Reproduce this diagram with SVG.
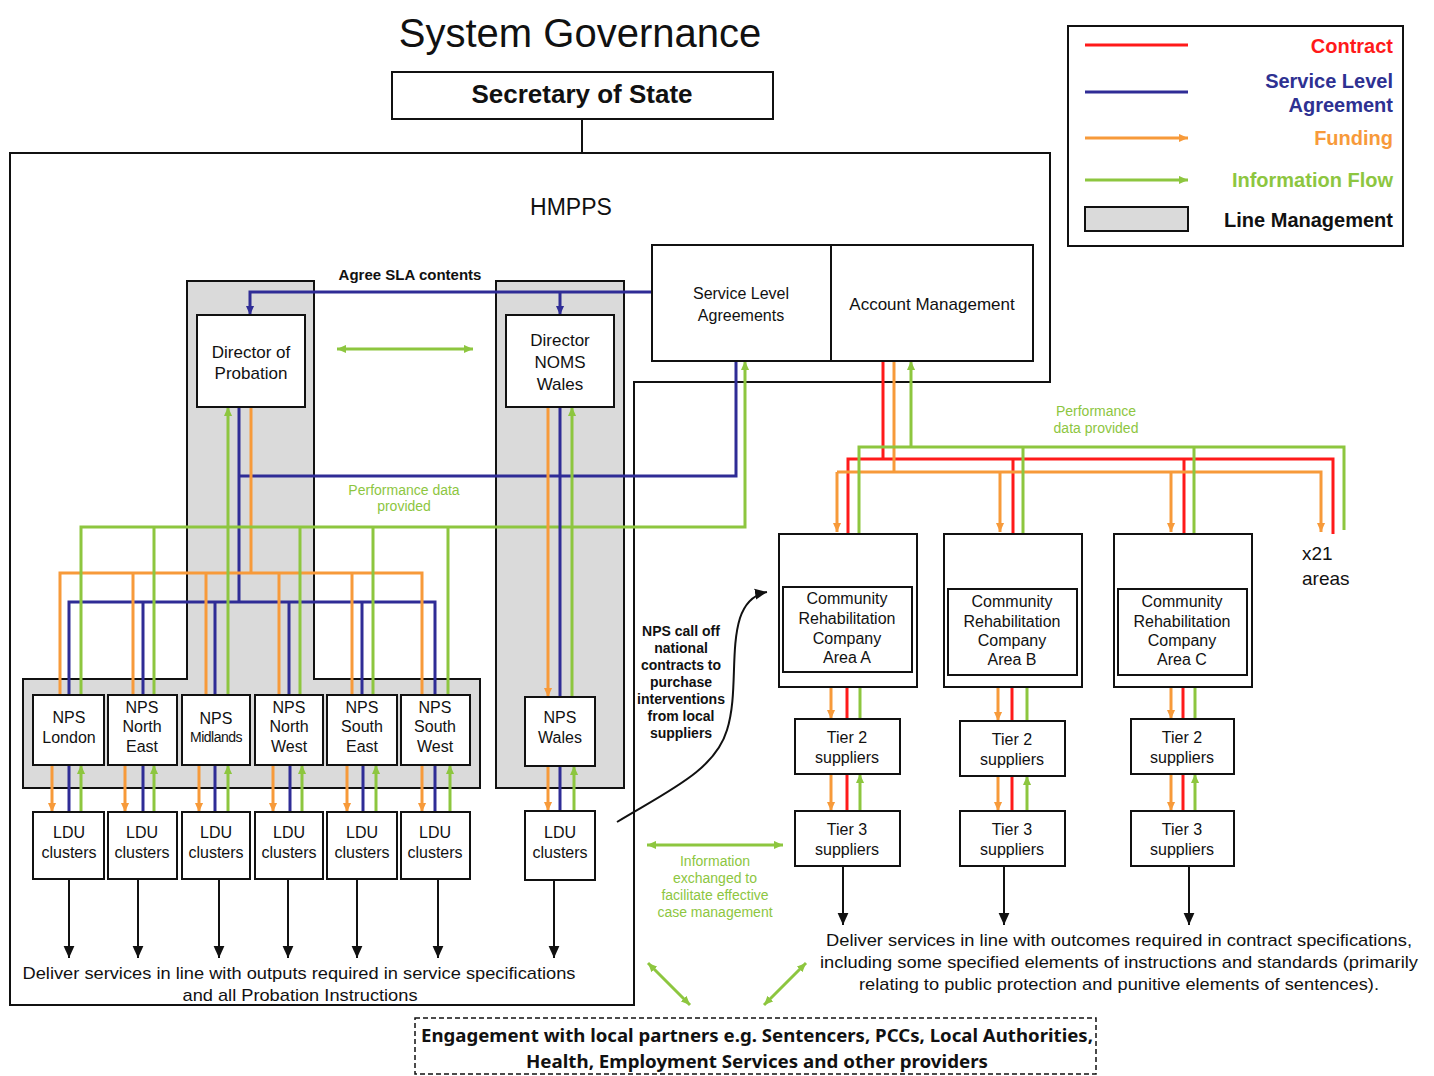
<svg xmlns="http://www.w3.org/2000/svg" width="1434" height="1076" viewBox="0 0 1434 1076">
<defs>
<style>
text{font-family:"Liberation Sans",Arial,sans-serif;fill:#111}
.c{text-anchor:middle}
.e{text-anchor:end}
.bd{font-weight:bold}
.box{fill:#fff;stroke:#111;stroke-width:2}
.lm{fill:#dadada;stroke:#111;stroke-width:2}
.frame{fill:none;stroke:#111;stroke-width:2}
.r{stroke:#ff1a1a;stroke-width:3;fill:none}
.b{stroke:#2f2c96;stroke-width:3;fill:none}
.o{stroke:#f79a3a;stroke-width:3;fill:none}
.g{stroke:#8dc63f;stroke-width:3;fill:none}
.k{stroke:#111;stroke-width:2;fill:none}
.t16{font-size:16px}
.t17{font-size:17px}
.t14{font-size:14px}
.gt{fill:#8dc63f;font-size:14px}
.lg{font-size:20px;font-weight:bold}
</style>
<marker id="ao" viewBox="0 0 10 10" refX="10" refY="5" markerWidth="9" markerHeight="9" markerUnits="userSpaceOnUse" orient="auto"><path d="M0,0.5 L10,5 L0,9.5 z" fill="#f79a3a"/></marker>
<marker id="ag" viewBox="0 0 10 10" refX="10" refY="5" markerWidth="9" markerHeight="9" markerUnits="userSpaceOnUse" orient="auto-start-reverse"><path d="M0,0.5 L10,5 L0,9.5 z" fill="#8dc63f"/></marker>
<marker id="ab" viewBox="0 0 10 10" refX="10" refY="5" markerWidth="9" markerHeight="9" markerUnits="userSpaceOnUse" orient="auto"><path d="M0,0.5 L10,5 L0,9.5 z" fill="#2f2c96"/></marker>
<marker id="ak" viewBox="0 0 10 10" refX="10" refY="5" markerWidth="12" markerHeight="12" markerUnits="userSpaceOnUse" orient="auto"><path d="M0,0.5 L10,5 L0,9.5 z" fill="#111"/></marker>
</defs>
<rect width="1434" height="1076" fill="#fff"/>

<text x="580" y="47" class="c" font-size="40">System Governance</text>

<!-- frames / line management backgrounds -->
<g id="hmpps">
<path class="frame" d="M10,153 H1050 V382 H634 V1005 H10 Z"/>
<text x="571" y="215" class="c" font-size="23">HMPPS</text>
</g>
<g id="lm-probation"><path class="lm" d="M187,281 H314 V679 H480 V788 H23 V679 H187 Z"/></g>
<g id="lm-wales"><rect class="lm" x="496" y="281" width="128" height="507"/></g>

<!-- connectors -->
<g id="connectors">
<line class="k" x1="582" y1="119" x2="582" y2="153"/>
<!-- SLA agree -->
<path class="b" d="M652,292 H250 V315" marker-end="url(#ab)"/>
<path class="b" d="M560,292 V315" marker-end="url(#ab)"/>
<line class="g" x1="337" y1="349" x2="473" y2="349" marker-start="url(#ag)" marker-end="url(#ag)"/>
<!-- blue SLA to NPS -->
<path class="b" d="M736,361 V476 H239"/>
<path class="b" d="M239,407 V602"/>
<path class="b" d="M69,695 V602 H435 V695"/>
<path class="b" d="M143,602 V695 M215,602 V695 M289,602 V695 M362,602 V695"/>
<!-- orange funding -->
<path class="o" d="M251,407 V573"/>
<path class="o" d="M60,695 V573 H422 V695"/>
<path class="o" d="M133,573 V695 M206,573 V695 M279,573 V695 M352,573 V695"/>
<!-- green info -->
<path class="g" d="M81,695 V527 H745 V361" marker-end="url(#ag)"/>
<path class="g" d="M228,695 V407" marker-end="url(#ag)"/>
<path class="g" d="M154,527 V695 M300,527 V695 M373,527 V695 M448,527 V695"/>
<!-- Wales -->
<line class="o" x1="548" y1="407" x2="548" y2="697" marker-end="url(#ao)"/>
<line class="b" x1="560" y1="407" x2="560" y2="697"/>
<line class="g" x1="572" y1="697" x2="572" y2="407" marker-end="url(#ag)"/>
<line class="o" x1="548" y1="766" x2="548" y2="811" marker-end="url(#ao)"/>
<line class="b" x1="560" y1="766" x2="560" y2="811"/>
<line class="g" x1="574" y1="811" x2="574" y2="766" marker-end="url(#ag)"/>
<!-- NPS to LDU -->
<g>
<line class="o" x1="52" y1="765" x2="52" y2="812" marker-end="url(#ao)"/>
<line class="b" x1="69" y1="765" x2="69" y2="812"/>
<line class="g" x1="81" y1="812" x2="81" y2="765" marker-end="url(#ag)"/>
<line class="o" x1="125" y1="765" x2="125" y2="812" marker-end="url(#ao)"/>
<line class="b" x1="143" y1="765" x2="143" y2="812"/>
<line class="g" x1="154" y1="812" x2="154" y2="765" marker-end="url(#ag)"/>
<line class="o" x1="199" y1="765" x2="199" y2="812" marker-end="url(#ao)"/>
<line class="b" x1="215" y1="765" x2="215" y2="812"/>
<line class="g" x1="228" y1="812" x2="228" y2="765" marker-end="url(#ag)"/>
<line class="o" x1="273" y1="765" x2="273" y2="812" marker-end="url(#ao)"/>
<line class="b" x1="290" y1="765" x2="290" y2="812"/>
<line class="g" x1="302" y1="812" x2="302" y2="765" marker-end="url(#ag)"/>
<line class="o" x1="347" y1="765" x2="347" y2="812" marker-end="url(#ao)"/>
<line class="b" x1="363" y1="765" x2="363" y2="812"/>
<line class="g" x1="376" y1="812" x2="376" y2="765" marker-end="url(#ag)"/>
<line class="o" x1="422" y1="765" x2="422" y2="812" marker-end="url(#ao)"/>
<line class="b" x1="435" y1="765" x2="435" y2="812"/>
<line class="g" x1="450" y1="812" x2="450" y2="765" marker-end="url(#ag)"/>
</g>
<!-- LDU deliver arrows -->
<g>
<line class="k" x1="69" y1="879" x2="69" y2="958" marker-end="url(#ak)"/>
<line class="k" x1="138" y1="879" x2="138" y2="958" marker-end="url(#ak)"/>
<line class="k" x1="219" y1="879" x2="219" y2="958" marker-end="url(#ak)"/>
<line class="k" x1="288" y1="879" x2="288" y2="958" marker-end="url(#ak)"/>
<line class="k" x1="357" y1="879" x2="357" y2="958" marker-end="url(#ak)"/>
<line class="k" x1="438" y1="879" x2="438" y2="958" marker-end="url(#ak)"/>
<line class="k" x1="554" y1="880" x2="554" y2="958" marker-end="url(#ak)"/>
</g>
<!-- Account management to CRCs -->
<path class="r" d="M883,361 V459"/>
<path class="r" d="M848,534 V459 H1333 V534"/>
<path class="r" d="M1013,459 V534 M1184,459 V534"/>
<path class="o" d="M894,361 V472"/>
<path class="o" d="M837,472 H1321 V532" marker-end="url(#ao)"/>
<path class="o" d="M837,472 V532" marker-end="url(#ao)"/>
<path class="o" d="M1000,472 V532" marker-end="url(#ao)"/>
<path class="o" d="M1171,472 V532" marker-end="url(#ao)"/>
<path class="g" d="M859,534 V447 H1344 V530"/>
<path class="g" d="M1023,447 V534 M1194,447 V534"/>
<path class="g" d="M911,447 V361" marker-end="url(#ag)"/>
<!-- CRC to tiers -->
<g>
<line class="o" x1="831" y1="672" x2="831" y2="719" marker-end="url(#ao)"/>
<line class="r" x1="847" y1="672" x2="847" y2="719"/>
<line class="g" x1="860" y1="719" x2="860" y2="672" marker-end="url(#ag)"/>
<line class="o" x1="831" y1="774" x2="831" y2="811" marker-end="url(#ao)"/>
<line class="r" x1="847" y1="774" x2="847" y2="811"/>
<line class="g" x1="860" y1="811" x2="860" y2="774" marker-end="url(#ag)"/>
<line class="o" x1="998" y1="675" x2="998" y2="721" marker-end="url(#ao)"/>
<line class="r" x1="1012" y1="675" x2="1012" y2="721"/>
<line class="g" x1="1027" y1="721" x2="1027" y2="675" marker-end="url(#ag)"/>
<line class="o" x1="998" y1="776" x2="998" y2="811" marker-end="url(#ao)"/>
<line class="r" x1="1012" y1="776" x2="1012" y2="811"/>
<line class="g" x1="1027" y1="811" x2="1027" y2="776" marker-end="url(#ag)"/>
<line class="o" x1="1171" y1="675" x2="1171" y2="719" marker-end="url(#ao)"/>
<line class="r" x1="1183" y1="675" x2="1183" y2="719"/>
<line class="g" x1="1195" y1="719" x2="1195" y2="675" marker-end="url(#ag)"/>
<line class="o" x1="1171" y1="774" x2="1171" y2="811" marker-end="url(#ao)"/>
<line class="r" x1="1183" y1="774" x2="1183" y2="811"/>
<line class="g" x1="1195" y1="811" x2="1195" y2="774" marker-end="url(#ag)"/>
</g>
<line class="k" x1="843" y1="866" x2="843" y2="925" marker-end="url(#ak)"/>
<line class="k" x1="1004" y1="866" x2="1004" y2="925" marker-end="url(#ak)"/>
<line class="k" x1="1189" y1="866" x2="1189" y2="925" marker-end="url(#ak)"/>
<!-- curved call-off arrow -->
<path class="k" d="M617,822 C670,790 715,770 727,730 C738,695 730,650 740,618 C746,600 756,594 767,592" marker-end="url(#ak)"/>
<!-- info exchange -->
<line class="g" x1="647" y1="845" x2="783" y2="845" marker-start="url(#ag)" marker-end="url(#ag)"/>
<line class="g" x1="648" y1="963" x2="690" y2="1005" marker-start="url(#ag)" marker-end="url(#ag)"/>
<line class="g" x1="806" y1="963" x2="764" y2="1005" marker-start="url(#ag)" marker-end="url(#ag)"/>
</g>

<!-- labels -->
<text x="410" y="280" class="c bd" font-size="15">Agree SLA contents</text>
<text class="c gt"><tspan x="404" y="495">Performance data</tspan><tspan x="404" y="511">provided</tspan></text>
<text class="c gt"><tspan x="1096" y="416">Performance</tspan><tspan x="1096" y="433">data provided</tspan></text>
<text class="c gt"><tspan x="715" y="866">Information</tspan><tspan x="715" y="883">exchanged to</tspan><tspan x="715" y="900">facilitate effective</tspan><tspan x="715" y="917">case management</tspan></text>
<text class="c bd t14"><tspan x="681" y="636">NPS call off</tspan><tspan x="681" y="653">national</tspan><tspan x="681" y="670">contracts to</tspan><tspan x="681" y="687">purchase</tspan><tspan x="681" y="704">interventions</tspan><tspan x="681" y="721">from local</tspan><tspan x="681" y="738">suppliers</tspan></text>
<text x="1302" y="560" font-size="19">x21</text>
<text x="1302" y="585" font-size="19">areas</text>
<text x="299" y="979" class="c t17" textLength="553" lengthAdjust="spacingAndGlyphs">Deliver services in line with outputs required in service specifications</text>
<text x="300" y="1001" class="c t17" textLength="235" lengthAdjust="spacingAndGlyphs">and all Probation Instructions</text>
<text x="1119" y="946" class="c t17" textLength="586" lengthAdjust="spacingAndGlyphs">Deliver services in line with outcomes required in contract specifications,</text>
<text x="1119" y="968" class="c t17" textLength="598" lengthAdjust="spacingAndGlyphs">including some specified elements of instructions and standards (primarily</text>
<text x="1119" y="990" class="c t17" textLength="520" lengthAdjust="spacingAndGlyphs">relating to public protection and punitive elements of sentences).</text>

<!-- nodes -->
<g id="secretary"><rect class="box" x="392" y="72" width="381" height="47"/><text x="582" y="103" class="c bd" font-size="26">Secretary of State</text></g>
<g id="sla"><rect class="box" x="652" y="245" width="179" height="116"/><text class="c t16"><tspan x="741" y="299">Service Level</tspan><tspan x="741" y="321">Agreements</tspan></text></g>
<g id="account"><rect class="box" x="831" y="245" width="202" height="116"/><text x="932" y="310" class="c t17">Account Management</text></g>
<g id="dir-probation"><rect class="box" x="197" y="315" width="108" height="92"/><text class="c t17"><tspan x="251" y="358">Director of</tspan><tspan x="251" y="379">Probation</tspan></text></g>
<g id="dir-wales"><rect class="box" x="506" y="315" width="108" height="92"/><text class="c t17"><tspan x="560" y="346">Director</tspan><tspan x="560" y="368">NOMS</tspan><tspan x="560" y="390">Wales</tspan></text></g>

<g id="nps-london"><rect class="box" x="33" y="695" width="71" height="70"/><text class="c t16"><tspan x="69" y="723">NPS</tspan><tspan x="69" y="743">London</tspan></text></g>
<g id="nps-ne"><rect class="box" x="108" y="695" width="69" height="70"/><text class="c t16"><tspan x="142" y="713">NPS</tspan><tspan x="142" y="732">North</tspan><tspan x="142" y="752">East</tspan></text></g>
<g id="nps-midlands"><rect class="box" x="182" y="695" width="68" height="70"/><text class="c" font-size="14"><tspan x="216" y="724" font-size="16">NPS</tspan><tspan x="216" y="742" letter-spacing="-0.5">Midlands</tspan></text></g>
<g id="nps-nw"><rect class="box" x="255" y="695" width="68" height="70"/><text class="c t16"><tspan x="289" y="713">NPS</tspan><tspan x="289" y="732">North</tspan><tspan x="289" y="752">West</tspan></text></g>
<g id="nps-se"><rect class="box" x="327" y="695" width="70" height="70"/><text class="c t16"><tspan x="362" y="713">NPS</tspan><tspan x="362" y="732">South</tspan><tspan x="362" y="752">East</tspan></text></g>
<g id="nps-sw"><rect class="box" x="401" y="695" width="69" height="70"/><text class="c t16"><tspan x="435" y="713">NPS</tspan><tspan x="435" y="732">South</tspan><tspan x="435" y="752">West</tspan></text></g>
<g id="nps-wales"><rect class="box" x="525" y="697" width="70" height="69"/><text class="c t16"><tspan x="560" y="723">NPS</tspan><tspan x="560" y="743">Wales</tspan></text></g>

<g id="ldu-1"><rect class="box" x="33" y="812" width="71" height="67"/><text class="c t16"><tspan x="69" y="838">LDU</tspan><tspan x="69" y="858">clusters</tspan></text></g>
<g id="ldu-2"><rect class="box" x="108" y="812" width="69" height="67"/><text class="c t16"><tspan x="142" y="838">LDU</tspan><tspan x="142" y="858">clusters</tspan></text></g>
<g id="ldu-3"><rect class="box" x="182" y="812" width="68" height="67"/><text class="c t16"><tspan x="216" y="838">LDU</tspan><tspan x="216" y="858">clusters</tspan></text></g>
<g id="ldu-4"><rect class="box" x="255" y="812" width="68" height="67"/><text class="c t16"><tspan x="289" y="838">LDU</tspan><tspan x="289" y="858">clusters</tspan></text></g>
<g id="ldu-5"><rect class="box" x="327" y="812" width="70" height="67"/><text class="c t16"><tspan x="362" y="838">LDU</tspan><tspan x="362" y="858">clusters</tspan></text></g>
<g id="ldu-6"><rect class="box" x="401" y="812" width="69" height="67"/><text class="c t16"><tspan x="435" y="838">LDU</tspan><tspan x="435" y="858">clusters</tspan></text></g>
<g id="ldu-wales"><rect class="box" x="525" y="811" width="70" height="69"/><text class="c t16"><tspan x="560" y="838">LDU</tspan><tspan x="560" y="858">clusters</tspan></text></g>

<g id="crc-a"><rect class="box" x="779" y="534" width="138" height="153"/><rect class="box" x="783" y="587" width="129" height="85"/><text class="c t16"><tspan x="847" y="604">Community</tspan><tspan x="847" y="624">Rehabilitation</tspan><tspan x="847" y="644">Company</tspan><tspan x="847" y="663">Area A</tspan></text></g>
<g id="crc-b"><rect class="box" x="944" y="534" width="138" height="153"/><rect class="box" x="948" y="589" width="129" height="86"/><text class="c t16"><tspan x="1012" y="607">Community</tspan><tspan x="1012" y="627">Rehabilitation</tspan><tspan x="1012" y="646">Company</tspan><tspan x="1012" y="665">Area B</tspan></text></g>
<g id="crc-c"><rect class="box" x="1114" y="534" width="138" height="153"/><rect class="box" x="1118" y="589" width="129" height="86"/><text class="c t16"><tspan x="1182" y="607">Community</tspan><tspan x="1182" y="627">Rehabilitation</tspan><tspan x="1182" y="646">Company</tspan><tspan x="1182" y="665">Area C</tspan></text></g>
<g id="tier2-a"><rect class="box" x="795" y="719" width="105" height="55"/><text class="c t16"><tspan x="847" y="743">Tier 2</tspan><tspan x="847" y="763">suppliers</tspan></text></g>
<g id="tier2-b"><rect class="box" x="960" y="721" width="105" height="55"/><text class="c t16"><tspan x="1012" y="745">Tier 2</tspan><tspan x="1012" y="765">suppliers</tspan></text></g>
<g id="tier2-c"><rect class="box" x="1131" y="719" width="103" height="55"/><text class="c t16"><tspan x="1182" y="743">Tier 2</tspan><tspan x="1182" y="763">suppliers</tspan></text></g>
<g id="tier3-a"><rect class="box" x="795" y="811" width="105" height="55"/><text class="c t16"><tspan x="847" y="835">Tier 3</tspan><tspan x="847" y="855">suppliers</tspan></text></g>
<g id="tier3-b"><rect class="box" x="960" y="811" width="105" height="55"/><text class="c t16"><tspan x="1012" y="835">Tier 3</tspan><tspan x="1012" y="855">suppliers</tspan></text></g>
<g id="tier3-c"><rect class="box" x="1131" y="811" width="103" height="55"/><text class="c t16"><tspan x="1182" y="835">Tier 3</tspan><tspan x="1182" y="855">suppliers</tspan></text></g>

<g id="engagement"><rect x="415" y="1018" width="681" height="56" fill="#fff" stroke="#111" stroke-width="1.5" stroke-dasharray="5,3"/>
<text x="757" y="1042" class="c" font-family="'Noto Sans',sans-serif" font-weight="bold" font-size="18" textLength="672" lengthAdjust="spacingAndGlyphs" style="font-family:'Noto Sans',sans-serif">Engagement with local partners e.g. Sentencers, PCCs, Local Authorities,</text>
<text x="757" y="1068" class="c" font-weight="bold" font-size="18" textLength="462" lengthAdjust="spacingAndGlyphs" style="font-family:'Noto Sans',sans-serif">Health, Employment Services and other providers</text></g>

<g id="legend">
<rect class="frame" x="1068" y="26" width="335" height="220"/>
<line class="r" x1="1085" y1="45" x2="1188" y2="45"/>
<text x="1393" y="53" class="e lg" style="fill:#ff1a1a">Contract</text>
<line class="b" x1="1085" y1="92" x2="1188" y2="92"/>
<text class="e lg" style="fill:#2e3192"><tspan x="1393" y="88">Service Level</tspan><tspan x="1393" y="112">Agreement</tspan></text>
<line class="o" x1="1085" y1="138" x2="1188" y2="138" marker-end="url(#ao)"/>
<text x="1393" y="145" class="e lg" style="fill:#f79a3a">Funding</text>
<line class="g" x1="1085" y1="180" x2="1188" y2="180" marker-end="url(#ag)"/>
<text x="1393" y="187" class="e lg" style="fill:#8dc63f">Information Flow</text>
<rect class="lm" x="1085" y="207" width="103" height="24"/>
<text x="1393" y="227" class="e lg">Line Management</text>
</g>
</svg>
